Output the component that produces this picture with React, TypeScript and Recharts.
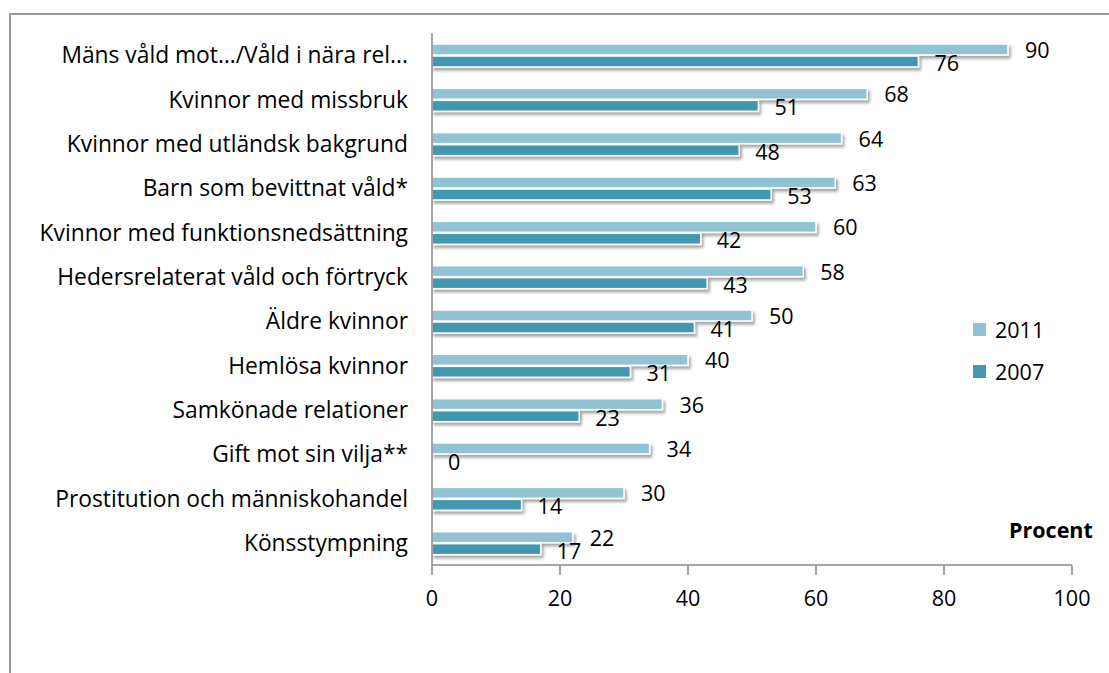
import React from 'react';
import { BarChart, Bar, XAxis, YAxis, LabelList } from 'recharts';

const categories = [
  'Mäns våld mot…/Våld i nära rel...',
  'Kvinnor med missbruk',
  'Kvinnor med utländsk bakgrund',
  'Barn som bevittnat våld*',
  'Kvinnor med funktionsnedsättning',
  'Hedersrelaterat våld och förtryck',
  'Äldre kvinnor',
  'Hemlösa kvinnor',
  'Samkönade relationer',
  'Gift mot sin vilja**',
  'Prostitution och människohandel',
  'Könsstympning',
];
const values2011 = [90, 68, 64, 63, 60, 58, 50, 40, 36, 34, 30, 22];
const values2007 = [76, 51, 48, 53, 42, 43, 41, 31, 23, 0, 14, 17];
const xTicks = [0, 20, 40, 60, 80, 100];
const seriesNames = ['2011', '2007'];

const data = categories.map((name, i) => ({ name, y2011: values2011[i], y2007: values2007[i] }));

const C2011 = '#92C3D4';
const C2007 = '#4398AF';
const FONT = '"Open Sans", sans-serif';
const FS = 21.5;
const FSCAT = 22.8;

const ShadowBar = (props: any) => {
  const { x, y, width, height, fill } = props;
  if (!width || width <= 0) return <g />;
  return (
    <rect x={x} y={y} width={width} height={height} fill={fill} stroke="#ffffff" strokeWidth={1.5} filter="url(#barShadow)" />
  );
};

export default function App() {
  return (
    <div style={{ position: 'absolute', left: 0, top: 0, width: 1109, height: 673, overflow: 'hidden', background: '#fff' }}>
      <svg width={0} height={0} style={{ position: 'absolute' }}>
        <defs>
          <filter id="barShadow" x="-5%" y="-100%" width="115%" height="400%">
            <feDropShadow dx={2} dy={3} stdDeviation={1.5} floodColor="#000" floodOpacity={0.35} />
          </filter>
        </defs>
      </svg>
      <div style={{ position: 'absolute', left: 9, top: 13, width: 1120, height: 700, border: '2px solid #9a9a9a', boxSizing: 'border-box' }} />
      <div style={{ position: 'absolute', left: 0, top: 0 }}>
        <BarChart
          width={1109}
          height={673}
          data={data}
          layout="vertical"
          margin={{ top: 33, right: 37, left: 0, bottom: 48 }}
          barSize={11}
          barGap={1}
        >
          <XAxis
            type="number"
            domain={[0, 100]}
            ticks={xTicks}
            height={60}
            axisLine={{ stroke: '#888', strokeWidth: 1.5 }}
            tickLine={{ stroke: '#888', strokeWidth: 1.5 }}
            tickSize={10}
            tickMargin={16}
            tick={{ fill: '#000', fontSize: FS, fontFamily: FONT }}
          />
          <YAxis
            type="category"
            dataKey="name"
            width={432}
            axisLine={{ stroke: '#888', strokeWidth: 1.5 }}
            tickLine={false}
            tickSize={0}
            tickMargin={24}
            interval={0}
            tick={{ fill: '#000', fontSize: FSCAT, fontFamily: FONT }}
          />
          <Bar dataKey="y2011" name="2011" fill={C2011} isAnimationActive={false} shape={<ShadowBar />}>
            <LabelList dataKey="y2011" position="right" offset={17} dy={1} style={{ fill: '#000', fontSize: FS, fontFamily: FONT }} />
          </Bar>
          <Bar dataKey="y2007" name="2007" fill={C2007} isAnimationActive={false} shape={<ShadowBar />}>
            <LabelList dataKey="y2007" position="right" offset={16} dy={2} style={{ fill: '#000', fontSize: FS, fontFamily: FONT }} />
          </Bar>
        </BarChart>
      </div>
      <div style={{ position: 'absolute', left: 973, top: 308, fontFamily: FONT, fontSize: FS, color: '#000' }}>
        {[C2011, C2007].map((c, i) => (
          <div key={i} style={{ display: 'flex', alignItems: 'center', height: 42 }}>
            <span style={{ display: 'inline-block', width: 13, height: 13, background: c, marginRight: 9 }} />
            <span>{seriesNames[i]}</span>
          </div>
        ))}
      </div>
      <div style={{ position: 'absolute', left: 1009, top: 515, fontFamily: FONT, fontSize: 21.5, fontWeight: 'bold', color: '#000' }}>Procent</div>
    </div>
  );
}
